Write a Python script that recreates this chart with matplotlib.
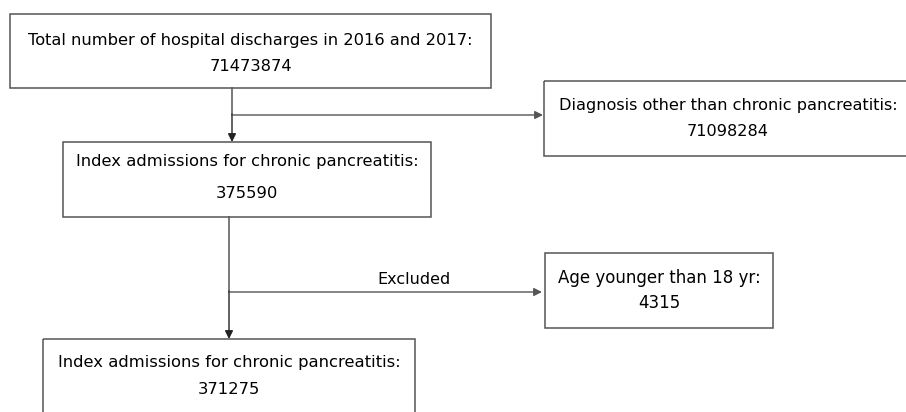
import matplotlib.pyplot as plt
from matplotlib.patches import Rectangle

# Тексты и числа блоков схемы
labels = [
    "Total number of hospital discharges in 2016 and 2017:",
    "Diagnosis other than chronic pancreatitis:",
    "Index admissions for chronic pancreatitis:",
    "Age younger than 18 yr:",
    "Index admissions for chronic pancreatitis:",
]
counts = [71473874, 71098284, 375590, 4315, 371275]
branch_label = "Excluded"

# Положение блоков в пикселях: x0, y0, x1, y1, y строки 1, y строки 2, размер шрифта
boxes = [
    (10, 14, 491, 88, 40, 66, 11.7),
    (544, 81, 912, 156, 105, 132, 11.6),
    (63, 142, 431, 217, 161, 193, 11.8),
    (545, 253, 773, 328, 278, 303, 12.0),
    (43, 339, 415, 420, 363, 390, 11.8),
]

edge = "#555555"

fig = plt.figure(figsize=(9.06, 4.12), dpi=100)
ax = fig.add_axes([0, 0, 1, 1])
ax.set_xlim(0, 906)
ax.set_ylim(412, 0)
ax.axis("off")

for (x0, y0, x1, y1, t1, t2, fs), lab, n in zip(boxes, labels, counts):
    ax.add_patch(Rectangle((x0, y0), x1 - x0, y1 - y0, fill=False,
                           edgecolor=edge, linewidth=1.1))
    cx = (x0 + x1) / 2
    ax.text(cx, t1, lab, ha="center", va="center", fontsize=fs,
            family="DejaVu Sans", color="black")
    ax.text(cx, t2, str(n), ha="center", va="center", fontsize=fs,
            family="DejaVu Sans", color="black")

arrow = dict(arrowstyle="-|>", color="#222222", lw=1.0,
             mutation_scale=12, shrinkA=0, shrinkB=0)

# Первый шаг: общий поток -> индексные госпитализации
ax.plot([232, 232], [88, 115], color=edge, lw=1.1)
ax.annotate("", xy=(232, 142), xytext=(232, 114), arrowprops=arrow)
ax.annotate("", xy=(543, 115), xytext=(232, 115),
            arrowprops=dict(arrow, color=edge))

# Второй шаг: исключение по возрасту
ax.plot([229, 229], [217, 292], color=edge, lw=1.1)
ax.annotate("", xy=(229, 339), xytext=(229, 291), arrowprops=arrow)
ax.annotate("", xy=(542, 292), xytext=(229, 292),
            arrowprops=dict(arrow, color=edge))
ax.text(414, 280, branch_label, ha="center", va="center", fontsize=11.5,
        family="DejaVu Sans", color="black")

fig.savefig("out.png", dpi=100)
